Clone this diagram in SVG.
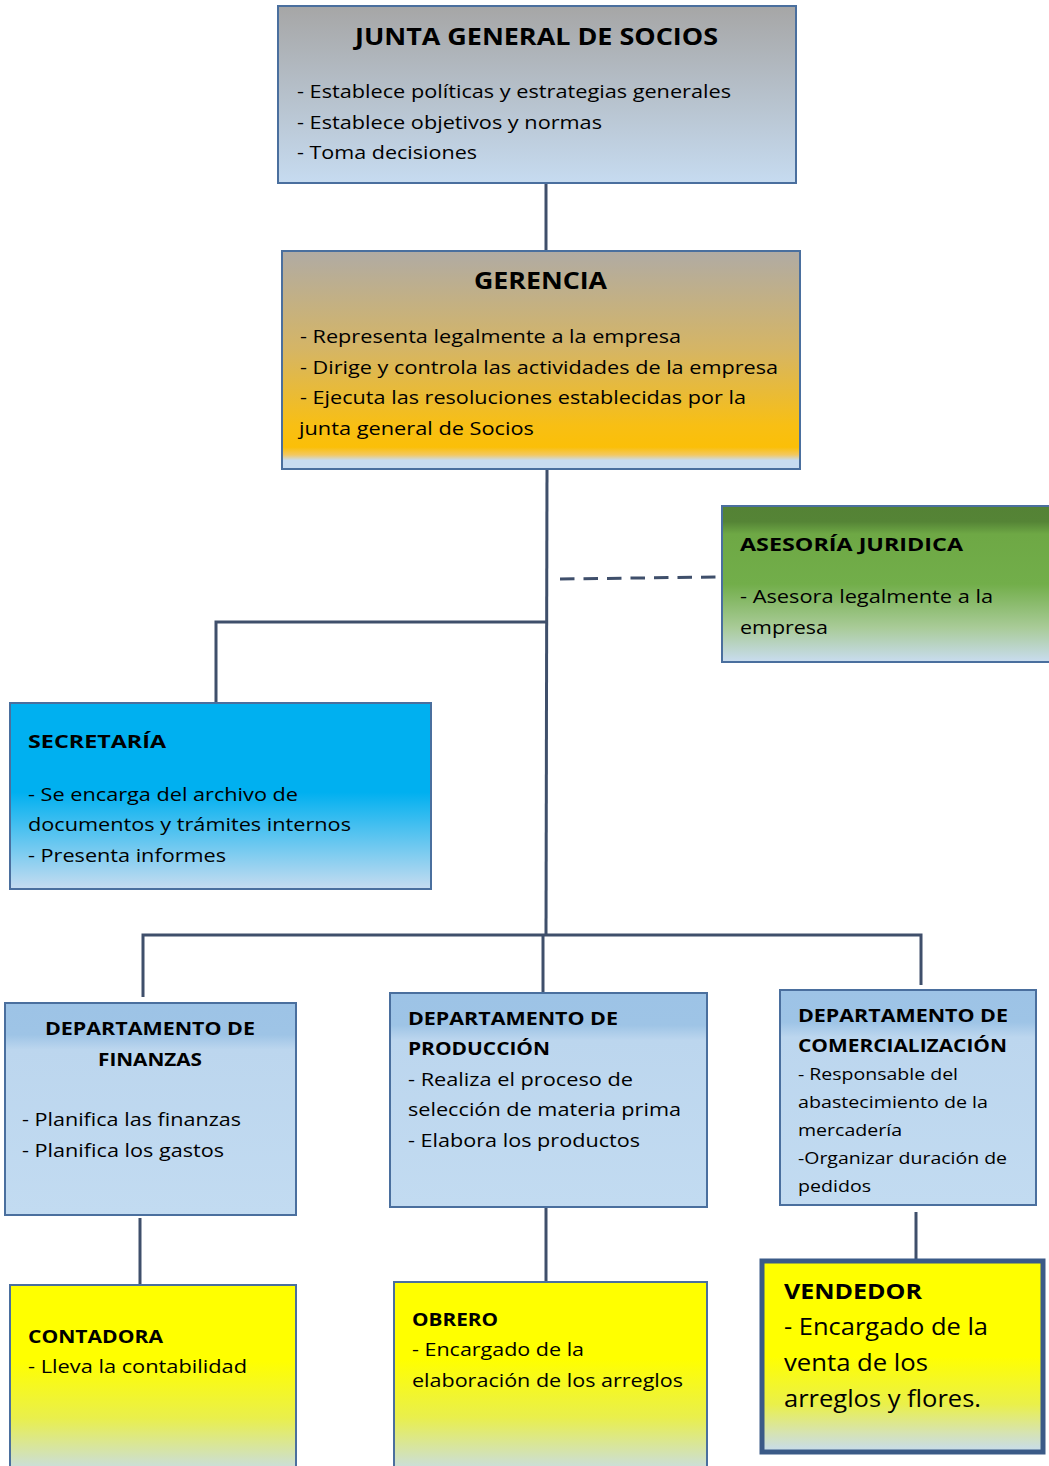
<svg xmlns="http://www.w3.org/2000/svg" width="1049" height="1466" viewBox="0 0 1049 1466">
  <defs>
    <linearGradient id="gJunta" x1="0" y1="0" x2="0" y2="1">
      <stop offset="0" stop-color="#a6a6a6"/>
      <stop offset="1" stop-color="#c6dbf0"/>
    </linearGradient>
    <linearGradient id="gGerencia" x1="0" y1="0" x2="0" y2="1">
      <stop offset="0" stop-color="#b0aba4"/>
      <stop offset="0.45" stop-color="#d5b565"/>
      <stop offset="0.8" stop-color="#f8bf14"/>
      <stop offset="0.9" stop-color="#fbbf08"/>
      <stop offset="0.935" stop-color="#f3c860"/>
      <stop offset="0.96" stop-color="#c8dcf0"/>
      <stop offset="1" stop-color="#c8dcf0"/>
    </linearGradient>
    <linearGradient id="gAsesoria" x1="0" y1="0" x2="0" y2="1">
      <stop offset="0" stop-color="#548235"/>
      <stop offset="0.1" stop-color="#558436"/>
      <stop offset="0.18" stop-color="#6ea845"/>
      <stop offset="0.5" stop-color="#72ae4a"/>
      <stop offset="0.78" stop-color="#a9cb98"/>
      <stop offset="1" stop-color="#c9dcf0"/>
    </linearGradient>
    <linearGradient id="gSecretaria" x1="0" y1="0" x2="0" y2="1">
      <stop offset="0" stop-color="#00b0f0"/>
      <stop offset="0.48" stop-color="#00b0f0"/>
      <stop offset="1" stop-color="#c6dcf0"/>
    </linearGradient>
    <linearGradient id="gDepto" x1="0" y1="0" x2="0" y2="1">
      <stop offset="0" stop-color="#9dc3e6"/>
      <stop offset="0.15" stop-color="#9ec4e6"/>
      <stop offset="0.22" stop-color="#bcd6ee"/>
      <stop offset="1" stop-color="#c2dbf1"/>
    </linearGradient>
    <linearGradient id="gAmarillo" x1="0" y1="0" x2="0" y2="1">
      <stop offset="0" stop-color="#ffff00"/>
      <stop offset="0.4" stop-color="#ffff00"/>
      <stop offset="0.7" stop-color="#e9ef4c"/>
      <stop offset="0.9" stop-color="#d2e2b8"/>
      <stop offset="1" stop-color="#c6dcf0"/>
    </linearGradient>
    <linearGradient id="gVendedor" x1="0" y1="0" x2="0" y2="1">
      <stop offset="0" stop-color="#ffff00"/>
      <stop offset="0.5" stop-color="#ffff00"/>
      <stop offset="0.75" stop-color="#eaf04a"/>
      <stop offset="0.9" stop-color="#d6e3b2"/>
      <stop offset="1" stop-color="#c6dcf0"/>
    </linearGradient>
  </defs>
  <style>
    .box { stroke: #4a6f9e; stroke-width: 2; }
    .heavy { stroke: #3b5a87; stroke-width: 5; }
    text { font-family: "Open Sans", "Noto Sans", "DejaVu Sans", sans-serif; fill: #000; }
    .t { font-size: 18.5px; }
    .h { font-size: 18.5px; font-weight: bold; }
    .big { font-size: 24px; font-weight: bold; }
    .s { font-size: 16.5px; }
    .v { font-size: 23px; }
    .vh { font-size: 22px; font-weight: bold; }
    .link { stroke: #3f4f6b; stroke-width: 3; fill: none; }
    .dash { stroke: #3f4f6b; stroke-width: 3; fill: none; stroke-dasharray: 14.5 9; }
  </style>

  <!-- connectors -->
  <g id="connectors">
    <path class="link" d="M546 183 V251"/>
    <path class="link" d="M547 469 L546 935"/>
    <path class="link" d="M547 622 H216 V703"/>
    <path class="dash" d="M560 579 L716 577"/>
    <path class="link" d="M143 997 V935 H921 V985"/>
    <path class="link" d="M543 935 V993"/>
    <path class="link" d="M140 1218 V1284"/>
    <path class="link" d="M546 1208 V1284"/>
    <path class="link" d="M916 1212 V1259"/>
  </g>

  <g id="junta">
    <rect class="box" x="278" y="6" width="518" height="177" fill="url(#gJunta)"/>
    <text class="big" x="355" y="45" textLength="363" lengthAdjust="spacingAndGlyphs">JUNTA GENERAL DE SOCIOS</text>
    <text class="t" x="297" y="98" textLength="434" lengthAdjust="spacingAndGlyphs">- Establece políticas y estrategias generales</text>
    <text class="t" x="297" y="129" textLength="305" lengthAdjust="spacingAndGlyphs">- Establece objetivos y normas</text>
    <text class="t" x="297" y="159" textLength="180" lengthAdjust="spacingAndGlyphs">- Toma decisiones</text>
  </g>

  <g id="gerencia">
    <rect class="box" x="282" y="251" width="518" height="218" fill="url(#gGerencia)"/>
    <text class="big" x="474" y="289" textLength="133" lengthAdjust="spacingAndGlyphs">GERENCIA</text>
    <text class="t" x="300" y="343" textLength="381" lengthAdjust="spacingAndGlyphs">- Representa legalmente a la empresa</text>
    <text class="t" x="300" y="374" textLength="478" lengthAdjust="spacingAndGlyphs">- Dirige y controla las actividades de la empresa</text>
    <text class="t" x="300" y="404" textLength="446" lengthAdjust="spacingAndGlyphs">- Ejecuta las resoluciones establecidas por la</text>
    <text class="t" x="299" y="435" textLength="235" lengthAdjust="spacingAndGlyphs">junta general de Socios</text>
  </g>

  <g id="asesoria">
    <rect class="box" x="722" y="506" width="340" height="156" fill="url(#gAsesoria)"/>
    <text class="h" x="740" y="551" textLength="223" lengthAdjust="spacingAndGlyphs">ASESORÍA JURIDICA</text>
    <text class="t" x="740" y="603" textLength="253" lengthAdjust="spacingAndGlyphs">- Asesora legalmente a la</text>
    <text class="t" x="740" y="634" textLength="88" lengthAdjust="spacingAndGlyphs">empresa</text>
  </g>

  <g id="secretaria">
    <rect class="box" x="10" y="703" width="421" height="186" fill="url(#gSecretaria)"/>
    <text class="h" x="28" y="748" textLength="138" lengthAdjust="spacingAndGlyphs">SECRETARÍA</text>
    <text class="t" x="28" y="801" textLength="270" lengthAdjust="spacingAndGlyphs">- Se encarga del archivo de</text>
    <text class="t" x="28" y="831" textLength="323" lengthAdjust="spacingAndGlyphs">documentos y trámites internos</text>
    <text class="t" x="28" y="862" textLength="198" lengthAdjust="spacingAndGlyphs">- Presenta informes</text>
  </g>

  <g id="finanzas">
    <rect class="box" x="5" y="1003" width="291" height="212" fill="url(#gDepto)"/>
    <text class="h" x="45" y="1035" textLength="210" lengthAdjust="spacingAndGlyphs">DEPARTAMENTO DE</text>
    <text class="h" x="98" y="1066" textLength="104" lengthAdjust="spacingAndGlyphs">FINANZAS</text>
    <text class="t" x="22" y="1126" textLength="219" lengthAdjust="spacingAndGlyphs">- Planifica las finanzas</text>
    <text class="t" x="22" y="1157" textLength="202" lengthAdjust="spacingAndGlyphs">- Planifica los gastos</text>
  </g>

  <g id="produccion">
    <rect class="box" x="390" y="993" width="317" height="214" fill="url(#gDepto)"/>
    <text class="h" x="408" y="1025" textLength="210" lengthAdjust="spacingAndGlyphs">DEPARTAMENTO DE</text>
    <text class="h" x="408" y="1055" textLength="142" lengthAdjust="spacingAndGlyphs">PRODUCCIÓN</text>
    <text class="t" x="408" y="1086" textLength="225" lengthAdjust="spacingAndGlyphs">- Realiza el proceso de</text>
    <text class="t" x="408" y="1116" textLength="273" lengthAdjust="spacingAndGlyphs">selección de materia prima</text>
    <text class="t" x="408" y="1147" textLength="232" lengthAdjust="spacingAndGlyphs">- Elabora los productos</text>
  </g>

  <g id="comercializacion">
    <rect class="box" x="780" y="990" width="256" height="215" fill="url(#gDepto)"/>
    <text class="h" x="798" y="1022" textLength="210" lengthAdjust="spacingAndGlyphs">DEPARTAMENTO DE</text>
    <text class="h" x="798" y="1052" textLength="209" lengthAdjust="spacingAndGlyphs">COMERCIALIZACIÓN</text>
    <text class="s" x="798" y="1080" textLength="160" lengthAdjust="spacingAndGlyphs">- Responsable del</text>
    <text class="s" x="798" y="1108" textLength="190" lengthAdjust="spacingAndGlyphs">abastecimiento de la</text>
    <text class="s" x="798" y="1136" textLength="104" lengthAdjust="spacingAndGlyphs">mercadería</text>
    <text class="s" x="798" y="1164" textLength="209" lengthAdjust="spacingAndGlyphs">-Organizar duración de</text>
    <text class="s" x="798" y="1192" textLength="73" lengthAdjust="spacingAndGlyphs">pedidos</text>
  </g>

  <g id="contadora">
    <rect class="box" x="10" y="1285" width="286" height="190" fill="url(#gAmarillo)"/>
    <text class="h" x="28" y="1343" textLength="135" lengthAdjust="spacingAndGlyphs">CONTADORA</text>
    <text class="t" x="28" y="1373" textLength="219" lengthAdjust="spacingAndGlyphs">- Lleva la contabilidad</text>
  </g>

  <g id="obrero">
    <rect class="box" x="394" y="1282" width="313" height="193" fill="url(#gAmarillo)"/>
    <text class="h" x="412" y="1326" textLength="86" lengthAdjust="spacingAndGlyphs">OBRERO</text>
    <text class="t" x="412" y="1356" textLength="172" lengthAdjust="spacingAndGlyphs">- Encargado de la</text>
    <text class="t" x="412" y="1387" textLength="271" lengthAdjust="spacingAndGlyphs">elaboración de los arreglos</text>
  </g>

  <g id="vendedor">
    <rect class="heavy" x="762" y="1261" width="281" height="191" fill="url(#gVendedor)"/>
    <text class="vh" x="784" y="1299" textLength="138" lengthAdjust="spacingAndGlyphs">VENDEDOR</text>
    <text class="v" x="784" y="1335" textLength="204" lengthAdjust="spacingAndGlyphs">- Encargado de la</text>
    <text class="v" x="784" y="1371" textLength="144" lengthAdjust="spacingAndGlyphs">venta de los</text>
    <text class="v" x="784" y="1407" textLength="197" lengthAdjust="spacingAndGlyphs">arreglos y flores.</text>
  </g>
</svg>
